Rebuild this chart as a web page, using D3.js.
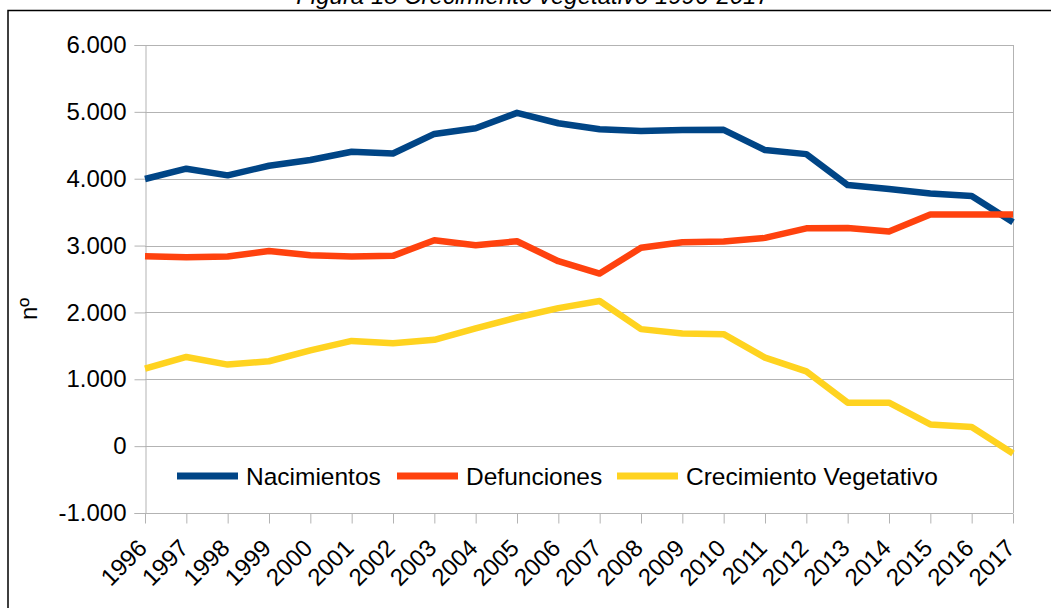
<!DOCTYPE html>
<html>
<head>
<meta charset="utf-8">
<script src="https://cdn.jsdelivr.net/npm/d3@7"></script>
<style>
  body { margin: 0; background: #fff; }
  svg { display: block; font-family: "Liberation Sans", Arial, sans-serif; }
</style>
</head>
<body>
<div id="chart"></div>
<script>
// chart values
const years = [1996, 1997, 1998, 1999, 2000, 2001, 2002, 2003, 2004, 2005, 2006,
               2007, 2008, 2009, 2010, 2011, 2012, 2013, 2014, 2015, 2016, 2017];
const nacimientos = [3996, 4150, 4050, 4194, 4280, 4403, 4378, 4670, 4755, 4985, 4830,
                     4740, 4712, 4727, 4731, 4428, 4368, 3905, 3846, 3780, 3740, 3348];
const defunciones = [2840, 2826, 2836, 2920, 2856, 2836, 2846, 3080, 3005, 3065, 2766,
                     2582, 2966, 3050, 3060, 3115, 3258, 3264, 3209, 3463, 3463, 3463];
const crecimiento = [1160, 1334, 1220, 1270, 1433, 1574, 1540, 1590, 1760, 1924, 2064,
                     2170, 1750, 1684, 1675, 1324, 1119, 650, 650, 325, 285, -110];
const seriesNames = ["Nacimientos", "Defunciones", "Crecimiento Vegetativo"];
const yTicks = [-1000, 0, 1000, 2000, 3000, 4000, 5000, 6000];

const colors = ["#004586", "#ff420e", "#ffd320"];
const series = [nacimientos, defunciones, crecimiento];

const W = 1051, H = 608;
const plotLeft = 145, plotRight = 1013, plotTop = 45, plotBottom = 513;

const svg = d3.select("#chart").append("svg")
  .attr("width", W)
  .attr("height", H);

// title (partly cut at top, as in the source) and outer frame
svg.append("text")
  .attr("x", 533)
  .attr("y", 4)
  .attr("text-anchor", "middle")
  .attr("font-style", "italic")
  .attr("font-size", 24)
  .attr("fill", "#000")
  .text("Figura 18 Crecimiento vegetativo 1996-2017");

svg.append("rect")
  .attr("x", 8)
  .attr("y", 10.5)
  .attr("width", 1200)
  .attr("height", 800)
  .attr("fill", "none")
  .attr("stroke", "#000")
  .attr("stroke-width", 1.5);

const x = d3.scaleLinear().domain([d3.min(years), d3.max(years)]).range([plotLeft, plotRight]);
const y = d3.scaleLinear().domain([-1000, 6000]).range([plotBottom, plotTop]);

const fmt = d3.formatLocale({decimal: ",", thousands: ".", grouping: [3], currency: ["", ""], minus: "-"}).format(",");

// gridlines
svg.append("g")
  .selectAll("line")
  .data(yTicks)
  .enter()
  .append("line")
  .attr("x1", plotLeft)
  .attr("x2", plotRight)
  .attr("y1", d => Math.round(y(d)) + 0.5)
  .attr("y2", d => Math.round(y(d)) + 0.5)
  .attr("stroke", "#b3b3b3")
  .attr("stroke-width", 1);

// right edge of plot area
svg.append("line")
  .attr("x1", plotRight + 0.5).attr("x2", plotRight + 0.5)
  .attr("y1", plotTop).attr("y2", plotBottom)
  .attr("stroke", "#b3b3b3");

// y axis
const yAxis = svg.append("g")
  .attr("transform", `translate(${plotLeft + 0.5},0)`)
  .call(d3.axisLeft(y).tickValues(yTicks).tickFormat(fmt).tickSize(11).tickPadding(8));
yAxis.select(".domain").attr("stroke", "#b3b3b3");
yAxis.selectAll(".tick line").attr("stroke", "#b3b3b3");
yAxis.selectAll(".tick text")
  .attr("font-size", 24)
  .attr("fill", "#000")
  .attr("font-family", "Liberation Sans, Arial, sans-serif");

// x axis
const xAxis = svg.append("g")
  .attr("transform", `translate(0,${Math.round(y(-1000)) + 0.5})`)
  .call(d3.axisBottom(x).tickValues(years).tickFormat(d => String(d)).tickSize(10));
xAxis.select(".domain").remove();
xAxis.selectAll(".tick line").attr("stroke", "#b3b3b3");
xAxis.selectAll(".tick text")
  .attr("font-size", 24)
  .attr("fill", "#000")
  .attr("font-family", "Liberation Sans, Arial, sans-serif")
  .attr("x", 0)
  .attr("y", 0)
  .attr("dy", 0)
  .attr("text-anchor", "end")
  .attr("transform", "translate(3,36) rotate(-45)");

// y axis title
svg.append("text")
  .attr("transform", "translate(37,309) rotate(-90)")
  .attr("text-anchor", "middle")
  .attr("font-size", 24)
  .attr("fill", "#000")
  .text("nº");

// lines
const line = d3.line()
  .x((d, i) => x(years[i]))
  .y(d => y(d));

svg.append("g")
  .selectAll("path")
  .data(series)
  .enter()
  .append("path")
  .attr("d", d => line(d))
  .attr("fill", "none")
  .attr("stroke", (d, i) => colors[i])
  .attr("stroke-width", 6.5)
  .attr("stroke-linejoin", "round");

// legend
const legendX = [177, 397, 617];
const legend = svg.append("g")
  .selectAll("g")
  .data(seriesNames)
  .enter()
  .append("g")
  .attr("transform", (d, i) => `translate(${legendX[i]},476)`);

legend.append("line")
  .attr("x1", 0)
  .attr("x2", 61)
  .attr("y1", 0)
  .attr("y2", 0)
  .attr("stroke", (d, i) => colors[i])
  .attr("stroke-width", 7);

legend.append("text")
  .attr("x", 69)
  .attr("y", 8.5)
  .attr("font-size", 24.5)
  .attr("fill", "#000")
  .text(d => d);
</script>
</body>
</html>
